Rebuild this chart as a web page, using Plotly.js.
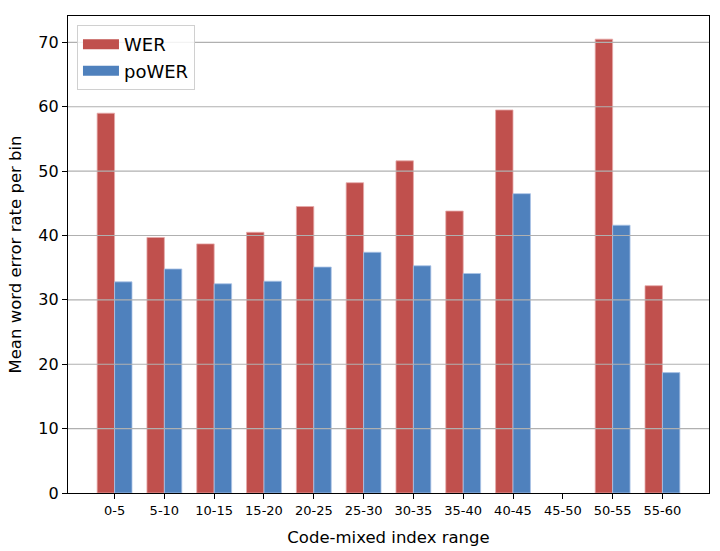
<!DOCTYPE html>
<html>
<head>
<meta charset="utf-8">
<script src="https://cdn.plot.ly/plotly-3.0.1.min.js"></script>
<style>
  body { margin: 0; background: #fff; }
  #chart { width: 720px; height: 551px; }
</style>
</head>
<body>
<div id="chart"></div>
<script>
let bins = ['0-5', '5-10', '10-15', '15-20', '20-25', '25-30',
            '30-35', '35-40', '40-45', '45-50', '50-55', '55-60']
// 45-50 has no data, nothing drawn there
let werVals   = [59.0, 39.7, 38.7, 40.5, 44.5, 48.2, 51.6, 43.8, 59.5, null, 70.5, 32.2]
let powerVals = [32.8, 34.8, 32.5, 32.9, 35.1, 37.4, 35.3, 34.1, 46.5, null, 41.6, 18.7]
let yTicks = [0, 10, 20, 30, 40, 50, 60, 70]

let werColor = '#c0504d'
let powerColor = '#4f81bd'

function errorGraph() {

    let TESTER = document.getElementById('chart')

    var wer = {
        x: bins,
        y: werVals,
        type: 'bar',
        width: 0.35,
        offset: -0.35,
        name: 'WER',
        showlegend: false,
        marker: {color: werColor, line: {color: 'rgba(230,170,170,0.8)', width: 1}}
    }

    var power = {
        x: bins,
        y: powerVals,
        type: 'bar',
        width: 0.35,
        offset: 0,
        name: 'poWER',
        showlegend: false,
        marker: {color: powerColor, line: {color: 'rgba(170,195,230,0.8)', width: 1}}
    }

    // empty line traces only for the wide rectangular legend swatches
    var werKey = {x: [null], y: [null], mode: 'lines', name: 'WER',
                  line: {color: werColor, width: 13}}
    var powerKey = {x: [null], y: [null], mode: 'lines', name: 'poWER',
                    line: {color: powerColor, width: 13}}

    // grid in matplotlib sits over the bars, so draw it as shapes
    let grid = yTicks.slice(1).map((t) => ({
        type: 'line', xref: 'paper', yref: 'y', layer: 'above',
        x0: 0, x1: 1, y0: t, y1: t,
        line: {color: '#b0b0b0', width: 1.2}
    }))

    var layout = {
        width: 720,
        height: 551,
        margin: {l: 68, r: 11, t: 16, b: 58},
        paper_bgcolor: '#fff',
        plot_bgcolor: '#fff',
        font: {family: 'DejaVu Sans', color: '#000'},
        barmode: 'overlay',
        showlegend: true,
        legend: {
            x: 0.014, y: 0.981, xanchor: 'left', yanchor: 'top',
            bgcolor: 'rgba(255,255,255,0.85)',
            bordercolor: '#d0d0d0', borderwidth: 1,
            font: {size: 18},
            itemwidth: 36,
            tracegroupgap: 0
        },
        xaxis: {
            type: 'category',
            range: [-0.935, 11.935],
            title: {text: 'Code-mixed index range', font: {size: 16.5}, standoff: 14},
            tickfont: {size: 13},
            ticks: 'outside', ticklen: 5, tickcolor: '#000',
            showline: true, linecolor: '#000', linewidth: 1.2, mirror: true,
            showgrid: false, zeroline: false
        },
        yaxis: {
            range: [0, 74.1],
            tickvals: yTicks,
            title: {text: 'Mean word error rate per bin', font: {size: 16.5}, standoff: 12},
            tickfont: {size: 16},
            ticks: 'outside', ticklen: 5, tickcolor: '#000',
            showline: true, linecolor: '#000', linewidth: 1.2, mirror: true,
            showgrid: false, zeroline: false
        },
        shapes: grid
    }

    Plotly.newPlot(TESTER, [wer, power, werKey, powerKey], layout, {displayModeBar: false})
}

errorGraph()
</script>
</body>
</html>
